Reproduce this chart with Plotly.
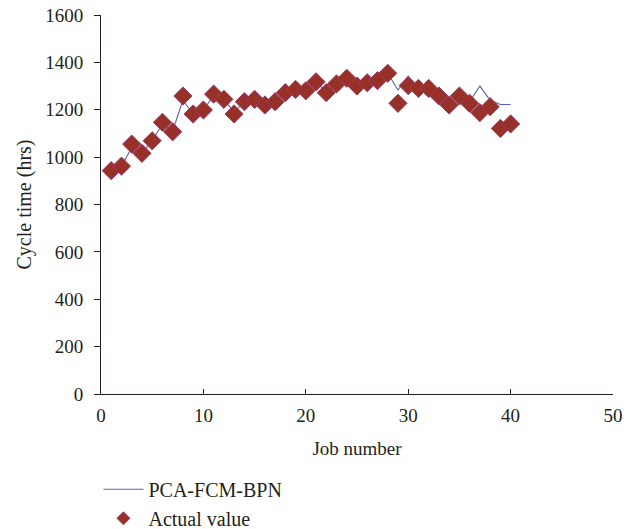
import plotly.graph_objects as go

jobs = list(range(1, 41))
actual = [943, 962, 1055, 1016, 1069, 1147, 1107, 1258, 1182, 1199,
          1266, 1244, 1182, 1234, 1244, 1220, 1234, 1272, 1286, 1280,
          1318, 1272, 1309, 1333, 1300, 1314, 1323, 1354, 1227, 1302,
          1290, 1290, 1258, 1220, 1258, 1227, 1188, 1213, 1121, 1140]
predicted = [943, 962, 1040, 1016, 1069, 1140, 1110, 1240, 1182, 1199,
             1260, 1244, 1190, 1234, 1244, 1220, 1234, 1272, 1286, 1280,
             1318, 1275, 1309, 1333, 1300, 1314, 1323, 1354, 1283, 1342,
             1290, 1290, 1258, 1225, 1258, 1235, 1300, 1240, 1222, 1222]

font_family = "Liberation Serif, Times New Roman, serif"
ink = "#231f20"
diamond_fill = "#973027"
diamond_edge = "#9c3a6a"

fig = go.Figure()
fig.add_trace(go.Scatter(
    x=jobs, y=predicted, mode="lines", name="PCA-FCM-BPN",
    line=dict(color="#5c62a8", width=1.1)))
fig.add_trace(go.Scatter(
    x=jobs, y=actual, mode="markers", name="Actual value", showlegend=False,
    marker=dict(symbol="diamond", size=14, color=diamond_fill,
                line=dict(color=diamond_edge, width=1))))
# legend entry with the smaller symbol used in the reference key
fig.add_trace(go.Scatter(
    x=[None], y=[None], mode="markers", name="Actual value",
    marker=dict(symbol="diamond", size=10, color=diamond_fill,
                line=dict(color=diamond_edge, width=1))))

fig.update_layout(
    width=636, height=529,
    margin=dict(l=101, r=23, t=15, b=135, autoexpand=False),
    paper_bgcolor="white", plot_bgcolor="white",
    font=dict(family=font_family, size=18, color=ink),
    showlegend=True,
    legend=dict(orientation="v", x=-0.005, y=-0.2, xanchor="left", yanchor="top",
                font=dict(size=20), tracegroupgap=0, itemwidth=40),
    xaxis=dict(range=[0, 50], dtick=10, showgrid=False, zeroline=False,
               showline=True, linecolor=ink, linewidth=1,
               ticks="inside", ticklen=5, tickcolor=ink,
               tickfont=dict(size=19), ticklabelstandoff=4,
               title=dict(text="Job number", standoff=16, font=dict(size=19))),
    yaxis=dict(range=[0, 1600], dtick=200, showgrid=False, zeroline=False,
               showline=True, linecolor=ink, linewidth=1,
               ticks="outside", ticklen=6, tickcolor=ink,
               tickfont=dict(size=19), ticklabelstandoff=7,
               title=dict(text="Cycle time (hrs)", standoff=8, font=dict(size=20))),
)

fig.write_html(
    "out.html",
    config={"displayModeBar": False},
    post_script="document.body.style.margin='0';document.body.style.overflow='hidden';",
)
